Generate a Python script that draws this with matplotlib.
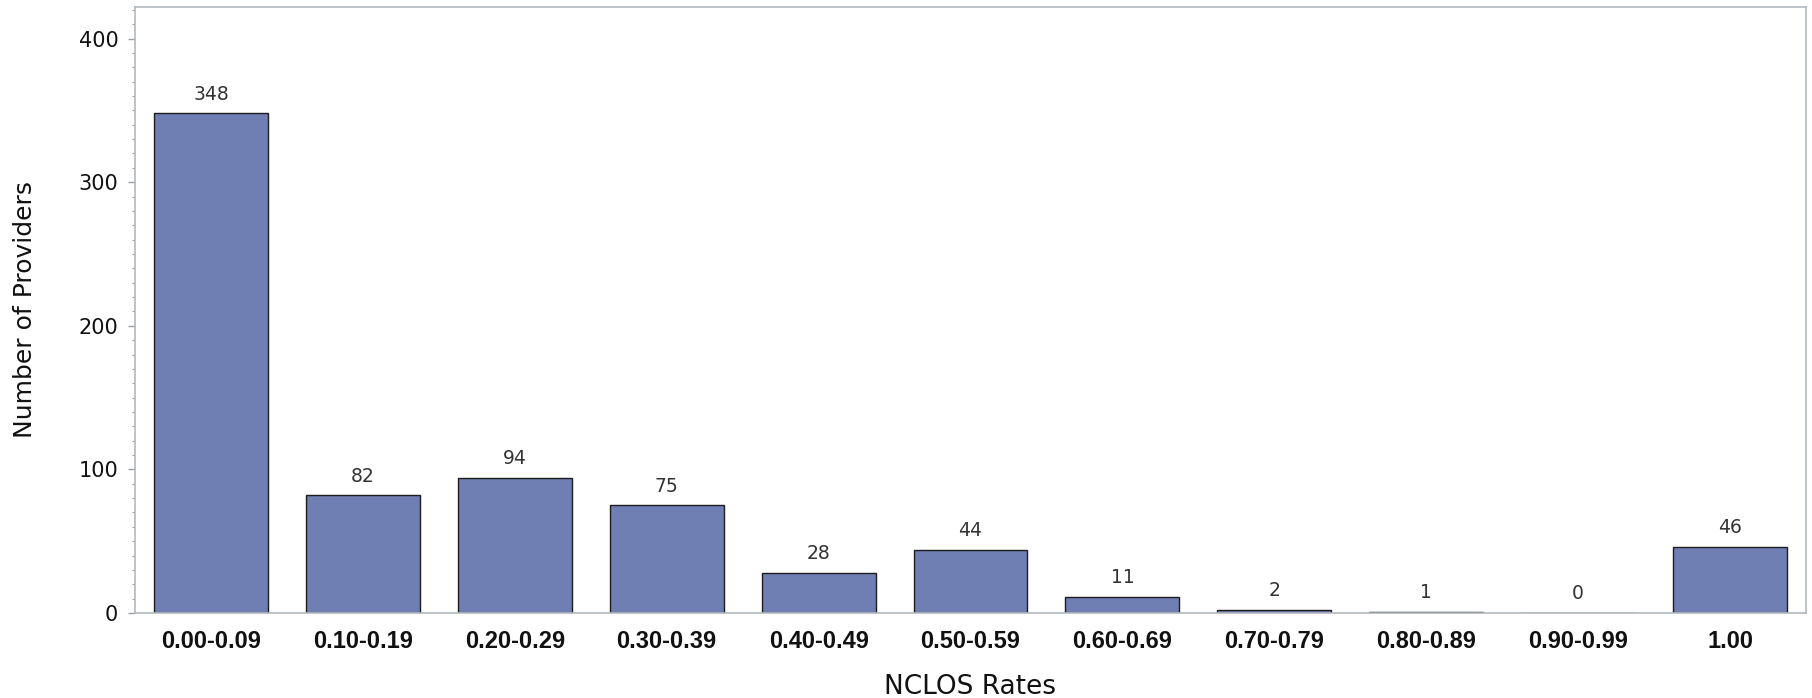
import numpy as np
import matplotlib
matplotlib.use("Agg")
import matplotlib.pyplot as plt
from matplotlib.ticker import MultipleLocator

# bins and provider counts
rate_bins = ["0.00-0.09", "0.10-0.19", "0.20-0.29", "0.30-0.39", "0.40-0.49",
             "0.50-0.59", "0.60-0.69", "0.70-0.79", "0.80-0.89", "0.90-0.99", "1.00"]
providers = [348, 82, 94, 75, 28, 44, 11, 2, 1, 0, 46]

bar_color = "#6F7EB3"
frame_color = "#B3B9BD"

fig = plt.figure(figsize=(18.12, 6.98), dpi=100)
ax = fig.add_axes([135 / 1812, 85 / 698, 1671 / 1812, 606 / 698])

x = np.arange(len(rate_bins))
bars = ax.bar(x, providers, width=0.75, color=bar_color, edgecolor="#1c1c1c", linewidth=1.0, zorder=2)

# count labels above bars
for xi, v in zip(x, providers):
    ax.annotate(str(v), (xi, v), xytext=(0, 7), textcoords="offset points",
                ha="center", va="bottom", fontsize=13.5, color="#333333")

ax.set_xlim(-0.5, len(rate_bins) - 0.5)
ax.set_ylim(0, 422)
ax.yaxis.set_major_locator(MultipleLocator(100))
ax.yaxis.set_minor_locator(MultipleLocator(10))

ax.set_xticks(x)
ax.set_xticklabels(rate_bins, fontfamily="Liberation Sans", fontweight="bold", fontsize=17)
ax.tick_params(axis="x", length=0, pad=12, colors="#111111")
ax.tick_params(axis="y", which="major", length=5, width=1, color="#9aa0a4", labelsize=15, pad=7, labelcolor="#111111")
ax.tick_params(axis="y", which="minor", length=2.5, width=0.8, color="#9aa0a4")

for s in ax.spines.values():
    s.set_color(frame_color)
    s.set_linewidth(1.2)

ax.set_xlabel("NCLOS Rates", fontsize=19, color="#111111", labelpad=15)
ax.set_ylabel("Number of Providers", fontsize=18, color="#111111", labelpad=30)

fig.savefig("out.png", dpi=100)
